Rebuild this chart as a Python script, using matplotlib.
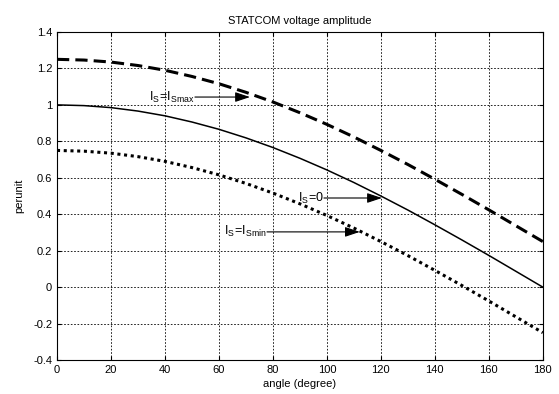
import matplotlib
matplotlib.use("Agg")
import matplotlib.pyplot as plt

plt.rcParams['font.family'] = ['Liberation Sans', 'DejaVu Sans']
plt.rcParams['mathtext.fontset'] = 'custom'
plt.rcParams['mathtext.rm'] = 'Liberation Sans'
plt.rcParams['mathtext.it'] = 'Liberation Sans'

# data
angle = [0, 10, 20, 30, 40, 50, 60, 70, 80, 90, 100, 110, 120, 130, 140, 150, 160, 170, 180]
v_zero = [1.0, 0.996, 0.985, 0.966, 0.94, 0.906, 0.866, 0.819, 0.766, 0.707,
          0.643, 0.574, 0.5, 0.423, 0.342, 0.259, 0.174, 0.087, 0.0]
v_max = [1.25, 1.246, 1.235, 1.216, 1.19, 1.156, 1.116, 1.069, 1.016, 0.957,
         0.893, 0.824, 0.75, 0.673, 0.592, 0.509, 0.424, 0.337, 0.25]
v_min = [0.75, 0.746, 0.735, 0.716, 0.69, 0.656, 0.616, 0.569, 0.516, 0.457,
         0.393, 0.324, 0.25, 0.173, 0.092, 0.009, -0.076, -0.163, -0.25]

fig = plt.figure(figsize=(5.59, 3.94), dpi=100)
ax = fig.add_axes([0.102, 0.0863, 0.869, 0.8325])

ax.plot(angle, v_max, color='black', linestyle=(0, (4, 2)), linewidth=2.2)
ax.plot(angle, v_zero, color='black', linestyle='-', linewidth=1.1)
ax.plot(angle, v_min, color='black', linestyle=(0, (1, 1.2)), linewidth=2.2)

ax.set_xlim(0, 180)
ax.set_ylim(-0.4, 1.4)
ax.set_xticks(range(0, 181, 20))
ax.set_yticks([-0.4, -0.2, 0, 0.2, 0.4, 0.6, 0.8, 1, 1.2, 1.4])
ax.set_yticklabels(['-0.4', '-0.2', '0', '0.2', '0.4', '0.6', '0.8', '1', '1.2', '1.4'])
ax.grid(True, color='black', linestyle=(0, (2, 2)), linewidth=0.6)
ax.tick_params(direction='in', top=True, right=True, labelsize=8, length=3)
for s in ax.spines.values():
    s.set_linewidth(0.8)

ax.set_title('STATCOM voltage amplitude', fontsize=8, pad=6)
ax.set_xlabel('angle (degree)', fontsize=8, labelpad=3)
ax.set_ylabel('perunit', fontsize=8, labelpad=6)

arrow = dict(arrowstyle='-|>,head_length=0.9,head_width=0.3', color='black',
             linewidth=0.8, shrinkA=0, shrinkB=0)
notes = [
    (r'$\mathregular{I_S\!=\!I_{Smax}}$', (51.1, 1.043), (71.5, 1.043)),
    (r'$\mathregular{I_S\!=\!0}$', (98.9, 0.489), (120.4, 0.489)),
    (r'$\mathregular{I_S\!=\!I_{Smin}}$', (77.8, 0.303), (112.2, 0.303)),
]
for label, tail, head in notes:
    ax.annotate('', xy=head, xytext=tail, arrowprops=arrow)
    ax.text(tail[0], tail[1], label, ha='right', va='center', fontsize=9)

fig.savefig('out.png', dpi=100)
